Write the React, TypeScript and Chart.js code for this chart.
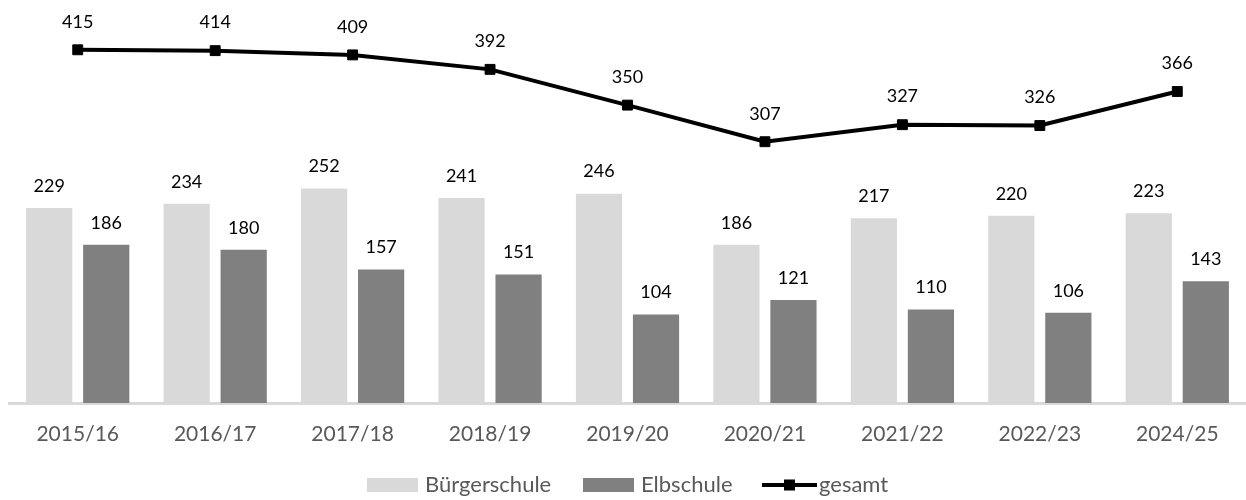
import React, { useEffect, useRef } from "react";
import { Chart, registerables } from "chart.js";

Chart.register(...registerables);

const categories = ["2015/16", "2016/17", "2017/18", "2018/19", "2019/20", "2020/21", "2021/22", "2022/23", "2024/25"];
const buergerschule = [229, 234, 252, 241, 246, 186, 217, 220, 223];
const elbschule = [186, 180, 157, 151, 104, 121, 110, 106, 143];
const gesamt = [415, 414, 409, 392, 350, 307, 327, 326, 366];
const seriesNames = ["Bürgerschule", "Elbschule", "gesamt"];

const FONT = "Lato, 'Open Sans', sans-serif";

const labelPlugin = {
  id: "valueLabels",
  afterDatasetsDraw(chart: any) {
    const ctx = chart.ctx;
    ctx.save();
    ctx.fillStyle = "#000000";
    ctx.font = `18px ${FONT}`;
    ctx.textAlign = "center";
    ctx.textBaseline = "middle";
    chart.data.datasets.forEach((ds: any, i: number) => {
      const meta = chart.getDatasetMeta(i);
      meta.data.forEach((el: any, j: number) => {
        const off = ds.type === "line" ? 28 : 22;
        ctx.fillText(String(ds.data[j]), el.x, el.y - off);
      });
    });
    ctx.restore();
  },
};

const legendPlugin = {
  id: "customLegend",
  afterDraw(chart: any) {
    const ctx = chart.ctx;
    ctx.save();
    const y = 485;
    ctx.font = `22px ${FONT}`;
    ctx.textBaseline = "middle";
    ctx.textAlign = "left";
    const ds = chart.data.datasets;
    const b = ds[1];
    const e = ds[2];
    const g = ds[0];
    // Bürgerschule
    ctx.fillStyle = b.backgroundColor;
    ctx.fillRect(367, y - 7, 51, 14);
    ctx.fillStyle = "#595959";
    ctx.fillText(b.label, 425, y);
    // Elbschule
    ctx.fillStyle = e.backgroundColor;
    ctx.fillRect(583, y - 7, 51, 14);
    ctx.fillStyle = "#595959";
    ctx.fillText(e.label, 641, y);
    // gesamt
    ctx.strokeStyle = "#000";
    ctx.lineWidth = 4;
    ctx.beginPath();
    ctx.moveTo(762, y);
    ctx.lineTo(817, y);
    ctx.stroke();
    ctx.fillStyle = "#000";
    ctx.fillRect(784, y - 5.5, 11, 11);
    ctx.fillStyle = "#595959";
    ctx.fillText(g.label, 819, y);
    ctx.restore();
  },
};

export default function App() {
  const ref = useRef<HTMLCanvasElement>(null);
  useEffect(() => {
    if (!ref.current) return;
    const chart = new Chart(ref.current, {
      type: "bar",
      data: {
        labels: categories,
        datasets: [
          {
            type: "line",
            label: seriesNames[2],
            data: gesamt,
            borderColor: "#000000",
            backgroundColor: "#000000",
            borderWidth: 4,
            pointStyle: "rect",
            pointRadius: 7,
            pointBorderWidth: 1,
            pointBackgroundColor: "#000000",
            pointBorderColor: "#000000",
            tension: 0,
            order: 0,
          } as any,
          {
            label: seriesNames[0],
            data: buergerschule,
            backgroundColor: "#d9d9d9",
            categoryPercentage: 0.83,
            barPercentage: 0.81,
            order: 1,
          },
          {
            label: seriesNames[1],
            data: elbschule,
            backgroundColor: "#808080",
            categoryPercentage: 0.83,
            barPercentage: 0.81,
            order: 1,
          },
        ],
      },
      options: {
        animation: false,
        responsive: false,
        maintainAspectRatio: false,
        layout: { autoPadding: false, padding: { left: 9, right: 0, top: 20, bottom: 0 } },
        plugins: {
          legend: { display: false },
          tooltip: { enabled: false },
        },
        scales: {
          x: {
            grid: { display: false, drawTicks: false },
            border: { display: true, color: "#d9d9d9", width: 3 },
            ticks: { color: "#595959", font: { family: FONT, size: 21 }, padding: 19 },
            afterFit: (scale: any) => {
              scale.height = 97;
            },
          },
          y: {
            display: false,
            min: 0,
            max: 450,
          },
        },
      },
      plugins: [labelPlugin, legendPlugin],
    });
    return () => chart.destroy();
  }, []);
  return (
    <div style={{ position: "absolute", left: 0, top: 0, width: 1246, height: 500, background: "#fff" }}>
      <canvas ref={ref} width={1246} height={500} style={{ width: 1246, height: 500 }} />
    </div>
  );
}
